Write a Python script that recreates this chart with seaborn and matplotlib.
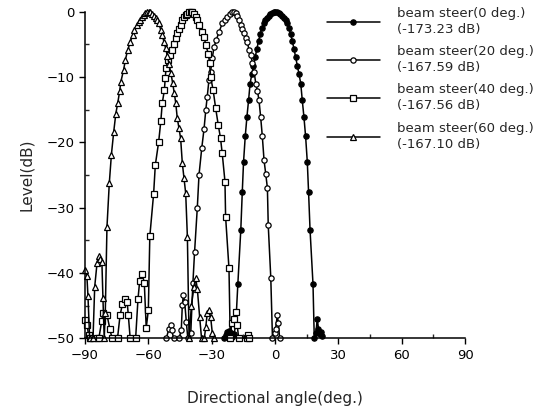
import matplotlib
matplotlib.use('Agg')
import matplotlib.pyplot as plt
import seaborn as sns
from matplotlib.ticker import MultipleLocator
from matplotlib.lines import Line2D

# beam steer 0 deg (filled circles)
ang_0 = [-24.2, -23.4, -22.6, -21.8, -21.0, -20.2, -19.4, -18.6, -17.6, -16.2, -15.5, -14.9,
         -14.1, -13.3, -12.5, -11.8, -11.0, -10.2, -9.4, -8.6, -7.8, -7.0, -6.2, -5.4, -4.6,
         -3.8, -3.0, -2.2, -1.4, -0.6, 0.2, 1.0, 1.8, 2.6, 3.4, 4.2, 5.0, 5.8, 6.6, 7.4, 8.2,
         9.0, 9.8, 10.6, 11.4, 12.2, 12.9, 13.7, 14.5, 15.3, 15.9, 16.6, 18.0, 18.6, 19.4,
         20.0, 20.6, 21.2, 21.8, 22.4]
lev_0 = [-50.0, -49.5, -49.1, -48.9, -49.2, -49.8, -49.3, -48.0, -41.7, -33.4, -27.6, -23.0,
         -19.1, -16.1, -13.5, -11.0, -9.6, -8.3, -7.0, -5.7, -4.5, -3.4, -2.5, -1.8, -1.3,
         -0.9, -0.6, -0.35, -0.15, -0.05, 0.0, -0.05, -0.15, -0.35, -0.6, -0.9, -1.3, -1.8,
         -2.5, -3.4, -4.5, -5.7, -7.0, -8.3, -9.6, -11.0, -13.5, -16.1, -19.1, -23.0, -27.6,
         -33.4, -41.7, -50.0, -49.2, -47.0, -48.5, -49.3, -49.0, -49.6]

# beam steer 20 deg (open circles)
ang_20 = [-51.5, -50.2, -49.4, -48.9, -48.0, -45.5, -44.4, -43.9, -43.4, -42.8, -42.0, -41.3,
          -39.9, -38.9, -38.1, -36.8, -36.0, -34.7, -33.6, -32.8, -32.1, -31.3, -30.5, -29.7,
          -28.9, -27.8, -26.5, -25.0, -23.8, -22.6, -21.5, -20.5, -19.6, -18.7, -17.9, -17.1,
          -16.3, -15.5, -14.7, -13.9, -13.1, -12.3, -11.5, -10.7, -9.9, -9.1, -8.3, -7.6, -6.8,
          -6.0, -5.2, -4.4, -3.6, -3.2, -2.0, -1.2, -0.1, 0.3, 1.1, 1.6, 2.2]
lev_20 = [-50.0, -48.5, -48.0, -48.8, -50.0, -50.0, -48.8, -44.9, -43.4, -44.4, -47.5, -50.0,
          -49.2, -41.6, -36.8, -30.0, -25.0, -20.9, -17.9, -15.1, -13.0, -10.5, -9.2, -7.1,
          -5.4, -4.3, -3.1, -1.8, -1.2, -0.8, -0.3, -0.1, 0.0, -0.2, -0.6, -1.3, -2.0, -2.6,
          -3.3, -4.0, -4.6, -5.9, -6.6, -7.8, -9.2, -11.0, -12.2, -13.5, -16.1, -19.1, -22.7,
          -24.8, -27.0, -32.7, -40.7, -50.0, -49.2, -48.5, -46.5, -47.7, -50.0]

# beam steer 40 deg (open squares)
ang_40 = [-90.0, -89.0, -88.3, -87.5, -84.5, -83.4, -82.1, -81.5, -80.2, -79.6, -78.2, -77.2,
          -74.6, -73.4, -72.3, -71.2, -70.0, -69.5, -68.6, -66.0, -64.9, -64.1, -62.9, -61.9,
          -61.0, -60.0, -59.3, -57.5, -56.7, -55.1, -54.1, -53.4, -52.4, -52.0, -51.6, -50.8,
          -49.8, -48.8, -47.8, -47.0, -46.3, -45.5, -44.7, -43.9, -43.1, -42.3, -41.5, -40.7,
          -39.9, -39.1, -38.4, -37.6, -36.8, -36.0, -34.7, -33.6, -32.8, -31.6, -31.0, -30.5,
          -29.3, -28.1, -26.9, -25.8, -25.0, -23.7, -23.4, -21.8, -21.2, -20.5, -19.4, -18.6,
          -17.9, -17.2, -13.4, -12.8, -12.3]
lev_40 = [-47.2, -48.0, -49.5, -50.0, -50.0, -49.9, -47.4, -46.1, -46.4, -46.4, -48.6, -50.0,
          -50.0, -46.5, -44.8, -44.0, -44.5, -46.4, -50.0, -49.9, -44.0, -41.2, -40.2, -41.6,
          -48.4, -45.7, -34.4, -27.9, -23.5, -19.9, -16.8, -14.0, -12.0, -10.2, -8.6, -7.4,
          -6.6, -5.9, -5.0, -4.1, -3.3, -2.6, -2.0, -1.3, -0.8, -0.5, -0.3, -0.1,
          0.0, -0.1, -0.4, -0.8, -1.3, -2.0, -3.1, -3.8, -5.1, -6.4, -7.9, -10.0,
          -12.0, -14.8, -17.3, -19.4, -21.7, -26.0, -31.4, -39.3, -50.0, -47.7, -47.0, -45.9,
          -48.0, -50.0, -50.0, -49.5, -50.0]

# beam steer 60 deg (open triangles)
ang_60 = [-90.0, -89.1, -88.6, -87.8, -86.2, -85.4, -84.3, -83.5, -82.8, -82.0, -81.5, -80.9,
          -80.4, -79.6, -78.5, -77.5, -76.4, -75.4, -74.5, -73.6, -73.0, -71.7, -70.9, -69.8,
          -68.5, -67.5, -66.6, -65.4, -64.6, -63.8, -63.0, -62.2, -61.4, -60.6, -59.8, -59.0,
          -58.2, -57.4, -56.6, -55.8, -55.0, -54.1, -53.4, -52.6, -51.8, -51.0, -50.2, -49.3,
          -48.5, -47.7, -47.0, -46.3, -45.5, -44.7, -43.9, -43.1, -42.3, -41.5, -40.7, -39.6,
          -38.4, -37.6, -36.8, -35.7, -34.8, -33.5, -32.8, -32.1, -31.3, -30.5, -29.7, -28.9]
lev_60 = [-39.5, -40.5, -43.5, -50.0, -50.0, -42.1, -38.5, -37.4, -37.9, -38.3, -43.9, -50.0,
          -46.2, -33.0, -26.3, -21.9, -18.4, -15.6, -14.0, -12.2, -10.7, -8.9, -7.4, -5.9,
          -4.6, -3.6, -2.8, -2.0, -1.6, -1.2, -0.8, -0.5, -0.25, -0.1, 0.0, -0.1,
          -0.3, -0.6, -0.9, -1.3, -1.8, -2.8, -3.6, -4.6, -5.6, -6.8, -8.0, -9.4,
          -10.9, -12.5, -14.0, -16.3, -17.8, -19.4, -23.2, -25.5, -27.8, -34.5, -50.0, -45.0,
          -42.1, -40.8, -42.4, -46.7, -50.0, -50.0, -48.3, -46.2, -45.7, -46.7, -49.2, -50.0]

labels = ['beam steer(0 deg.)\n(-173.23 dB)',
          'beam steer(20 deg.)\n(-167.59 dB)',
          'beam steer(40 deg.)\n(-167.56 dB)',
          'beam steer(60 deg.)\n(-167.10 dB)']

sns.set_style('ticks')
plt.rcParams['font.family'] = ['DejaVu Sans']

fig = plt.figure(figsize=(5.41, 4.08), dpi=100)
ax = fig.add_axes([85 / 541, 1 - 338.3 / 408, 380 / 541, 326.6 / 408])

styles = [('o', 'black', 3.8), ('o', 'white', 3.8), ('s', 'white', 3.8), ('^', 'white', 4.0)]
series = [(ang_0, lev_0), (ang_20, lev_20), (ang_40, lev_40), (ang_60, lev_60)]

handles = []
for (xs, ys), (mk, fc, ms) in zip(series, styles):
    sns.lineplot(x=xs, y=ys, ax=ax, sort=False, estimator=None, color='black',
                 linewidth=1.1, marker=mk, markersize=ms, markerfacecolor=fc,
                 markeredgecolor='black', markeredgewidth=0.9, clip_on=False,
                 legend=False)
    handles.append(Line2D([0], [0], color='black', linewidth=1.1, marker=mk,
                          markersize=ms, markerfacecolor=fc, markeredgecolor='black',
                          markeredgewidth=0.9))

ax.set_xlim(-90, 90)
ax.set_ylim(-50, 0)
ax.xaxis.set_major_locator(MultipleLocator(30))
ax.xaxis.set_minor_locator(MultipleLocator(15))
ax.yaxis.set_major_locator(MultipleLocator(10))
ax.yaxis.set_minor_locator(MultipleLocator(5))
ax.tick_params(which='major', direction='out', length=4, width=1, labelsize=9.5, colors='black')
ax.tick_params(which='minor', direction='in', length=3, width=1)
ax.spines['right'].set_visible(False)
ax.spines['top'].set_visible(False)
for s in ['left', 'bottom']:
    ax.spines[s].set_linewidth(1.1)
    ax.spines[s].set_color('black')

ax.set_xlabel('Directional angle(deg.)', fontsize=11, labelpad=21)
ax.set_ylabel('Level(dB)', fontsize=11, labelpad=9)

leg = fig.legend(handles, labels, loc='upper left', bbox_to_anchor=(327 / 541, 1 - 7 / 408),
                 frameon=False, fontsize=9.5, handlelength=4.0, handletextpad=1.3,
                 labelspacing=0.7, borderpad=0, borderaxespad=0)
for t in leg.get_texts():
    t.set_linespacing(1.3)

fig.savefig('out.png', dpi=100)
